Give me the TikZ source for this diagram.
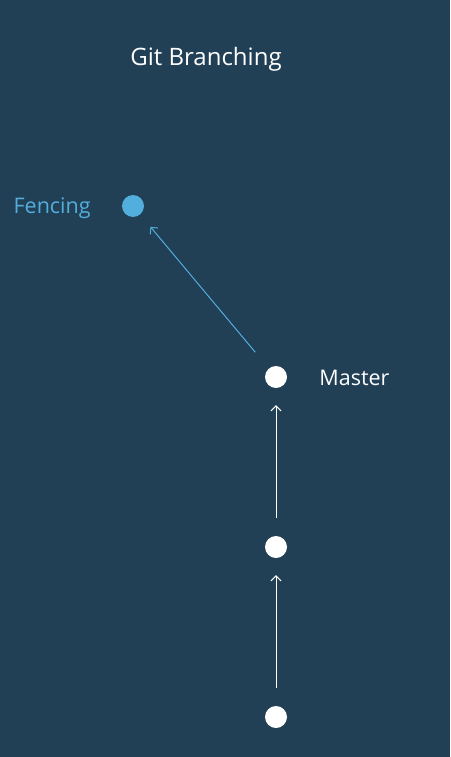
\documentclass[tikz,border=0pt]{standalone}
\usepackage{fontspec}
\setmainfont{Open Sans}
\usepackage{xcolor}
\usetikzlibrary{arrows.meta,positioning}

\definecolor{bgnavy}{HTML}{213F55}
\definecolor{branchblue}{HTML}{52AEDC}

\begin{document}
\begin{tikzpicture}[
  x=1pt, y=-1pt,
  commit/.style={circle, fill=white, inner sep=0pt, minimum size=22pt},
  branchcommit/.style={commit, fill=branchblue},
  lbl/.style={font=\fontsize{21.5}{26}\selectfont, text=white, inner sep=0pt},
  arr/.style={-{Straight Barb[length=5pt,width=10pt]}, draw=white, line width=1pt},
  barr/.style={arr, draw=branchblue},
]
  \useasboundingbox[fill=bgnavy] (0,0) rectangle (450,757);

  \node[lbl, font=\fontsize{24}{29}\selectfont] (title) at (206,59) {Git Branching};

  \node[branchcommit] (F) at (133,206) {};
  \node[commit] (M) at (276,377) {};
  \node[commit] (C2) at (276,547) {};
  \node[commit] (C1) at (276,717) {};

  \node[lbl, text=branchblue, left=31pt of F, yshift=-2pt] (Flbl) {Fencing};
  \node[lbl, right=32pt of M, yshift=-1pt] (Mlbl) {Master};

  \draw[arr, shorten <=18pt, shorten >=17pt] (C1) -- (C2);
  \draw[arr, shorten <=18pt, shorten >=17pt] (C2) -- (M);
  \draw[barr, shorten <=21pt, shorten >=16pt] (M) -- (F);
\end{tikzpicture}
\end{document}
